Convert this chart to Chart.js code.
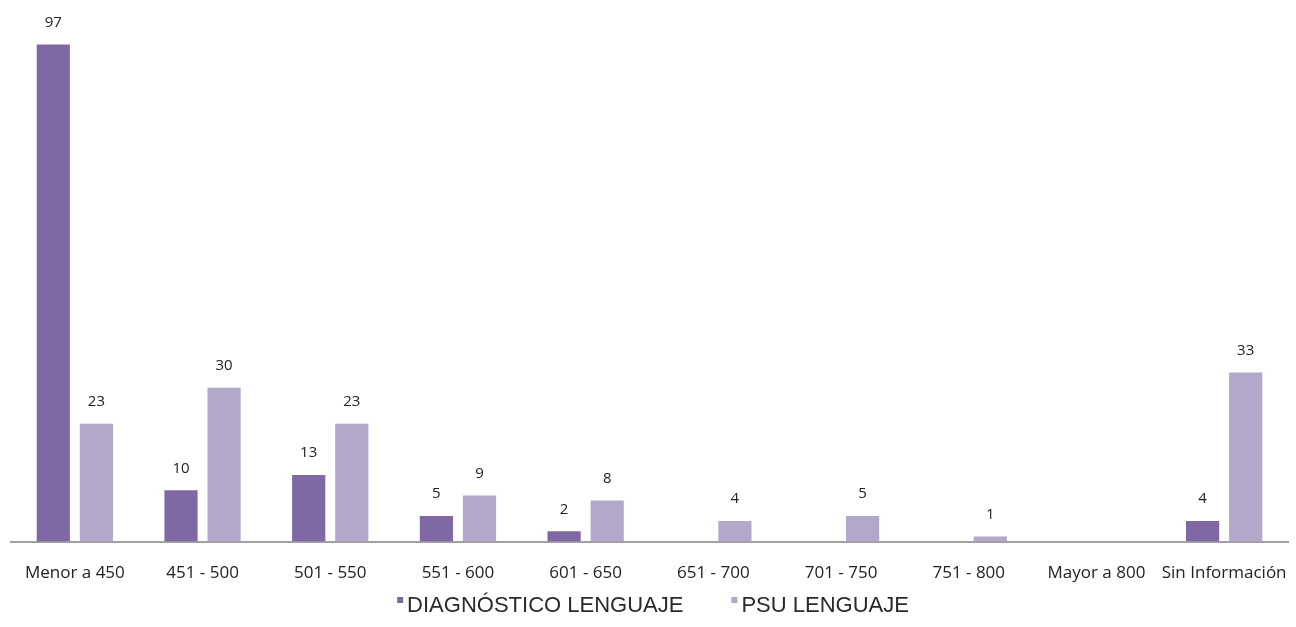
<!DOCTYPE html>
<html>
<head>
<meta charset="utf-8">
<script src="https://cdn.jsdelivr.net/npm/chart.js@4/dist/chart.umd.min.js"></script>
<style>
html,body{margin:0;padding:0;background:#fff;}
#wrap{width:1296px;height:627px;position:relative;}
</style>
</head>
<body>
<div id="wrap"><canvas id="c" width="1296" height="627"></canvas></div>
<script>
const categories = ["Menor a 450","451 - 500","501 - 550","551 - 600","601 - 650","651 - 700","701 - 750","751 - 800","Mayor a 800","Sin Información"];
const diagnostico = [97,10,13,5,2,null,null,null,null,4];
const psu = [23,30,23,9,8,4,5,1,null,33];
const seriesNames = ["DIAGNÓSTICO LENGUAJE","PSU LENGUAJE"];
const seriesColors = ["#8068a4","#b2a8c9"];

const valueLabels = {
  id:'valueLabels',
  afterDatasetsDraw(chart){
    const ctx = chart.ctx;
    ctx.save();
    ctx.font = '15px "Open Sans", sans-serif';
    ctx.fillStyle = '#222';
    ctx.textAlign = 'center';
    ctx.textBaseline = 'middle';
    chart.data.datasets.forEach((ds,i)=>{
      const meta = chart.getDatasetMeta(i);
      meta.data.forEach((el,j)=>{
        const v = ds.data[j];
        if(v===null||v===undefined) return;
        ctx.fillText(String(v), el.x, el.y - 22);
      });
    });
    ctx.restore();
  }
};

const bottomLegend = {
  id:'bottomLegend',
  afterDraw(chart){
    const ctx = chart.ctx;
    ctx.save();
    ctx.font = '22px "Liberation Sans", Arial, sans-serif';
    ctx.textBaseline = 'middle';
    ctx.textAlign = 'left';
    const box = 6, gapBoxText = 4, gapItems = 48;
    const items = chart.data.datasets.map(d=>({text:d.label,color:d.backgroundColor}));
    let total = 0;
    items.forEach((it,i)=>{ it.w = ctx.measureText(it.text).width; total += box + gapBoxText + it.w + (i<items.length-1?gapItems:0); });
    let x = 653 - total/2;
    const yc = 606;
    items.forEach(it=>{
      ctx.fillStyle = it.color;
      ctx.fillRect(x, yc - 9, box, box);
      x += box + gapBoxText;
      ctx.fillStyle = '#2a2a2a';
      ctx.fillText(it.text, x, yc);
      x += it.w + gapItems;
    });
    ctx.restore();
  }
};

new Chart(document.getElementById('c'),{
  type:'bar',
  data:{
    labels:categories,
    datasets:[
      {label:seriesNames[0],data:diagnostico,backgroundColor:seriesColors[0]},
      {label:seriesNames[1],data:psu,backgroundColor:seriesColors[1]}
    ]
  },
  options:{
    responsive:false,
    animation:false,
    layout:{padding:{left:11,right:8,top:29,bottom:31}},
    datasets:{bar:{categoryPercentage:0.675,barPercentage:0.77}},
    scales:{
      x:{
        grid:{display:false},
        border:{display:true,color:'#a0a0a0',width:2},
        ticks:{color:'#222',font:{family:'"Open Sans", sans-serif',size:17},padding:13,maxRotation:0,autoSkip:false},
        afterFit(scale){ scale.paddingLeft = 0; scale.paddingRight = 0; }
      },
      y:{display:false,min:0,max:100}
    },
    plugins:{
      legend:{display:false},
      tooltip:{enabled:false}
    }
  },
  plugins:[valueLabels,bottomLegend]
});
</script>
</body>
</html>
